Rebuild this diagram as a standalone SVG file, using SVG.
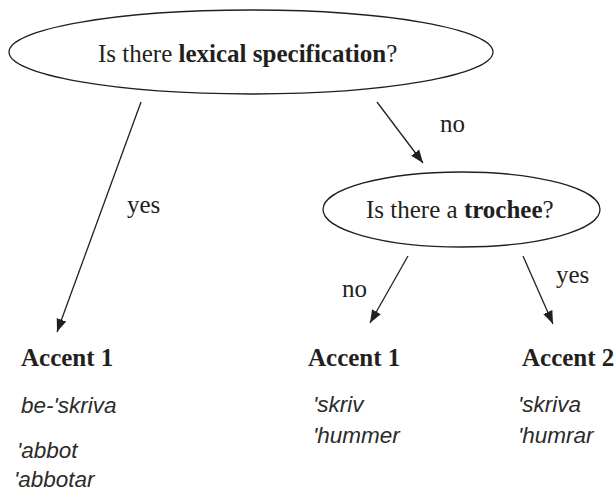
<svg xmlns="http://www.w3.org/2000/svg" width="616" height="491" viewBox="0 0 616 491">
<defs>
<marker id="arr" markerUnits="userSpaceOnUse" markerWidth="14" markerHeight="12" viewBox="0 0 14 12" refX="13" refY="6" orient="auto">
<path d="M0,1 L13,6 L0,11 Z" fill="#231f20"/>
</marker>
</defs>
<style>
.node ellipse{fill:#fff;stroke:#231f20;stroke-width:1.3}
.q{font-family:"Liberation Serif",serif;font-size:25px;fill:#231f20}
.lbl{font-family:"Liberation Serif",serif;font-size:25px;fill:#231f20}
.head{font-family:"Liberation Serif",serif;font-size:25px;font-weight:bold;fill:#231f20}
.ex{font-family:"Liberation Sans",sans-serif;font-size:22.5px;font-style:italic;fill:#2b2b2b}
.edges line{stroke:#231f20;stroke-width:1.3;marker-end:url(#arr)}
</style>
<g class="edges" id="connectors">
<line x1="141" y1="102" x2="57" y2="332"/>
<line x1="377" y1="102" x2="423" y2="163"/>
<line x1="408" y1="256" x2="370" y2="323"/>
<line x1="523" y1="256" x2="553" y2="324"/>
<text class="lbl" x="127" y="213">yes</text>
<text class="lbl" x="440" y="132">no</text>
<text class="lbl" x="342" y="297">no</text>
<text class="lbl" x="556" y="283">yes</text>
</g>
<g class="node" id="q1">
<ellipse cx="251" cy="52" rx="242" ry="42"/>
<text class="q" x="98" y="62">Is there <tspan font-weight="bold">lexical specification</tspan>?</text>
</g>
<g class="node" id="q2">
<ellipse cx="461.5" cy="209.5" rx="138.5" ry="37.5"/>
<text class="q" x="366" y="218">Is there a <tspan font-weight="bold">trochee</tspan>?</text>
</g>
<g class="node" id="leaf1">
<text class="head" x="21" y="366">Accent 1</text>
<text class="ex" x="21" y="413">be-'skriva</text>
<text class="ex" x="17" y="458">'abbot</text>
<text class="ex" x="14" y="487">'abbotar</text>
</g>
<g class="node" id="leaf2">
<text class="head" x="308" y="366">Accent 1</text>
<text class="ex" x="313" y="412">'skriv</text>
<text class="ex" x="313" y="443">'hummer</text>
</g>
<g class="node" id="leaf3">
<text class="head" x="522" y="366">Accent 2</text>
<text class="ex" x="518" y="412">'skriva</text>
<text class="ex" x="518" y="443">'humrar</text>
</g>
</svg>
